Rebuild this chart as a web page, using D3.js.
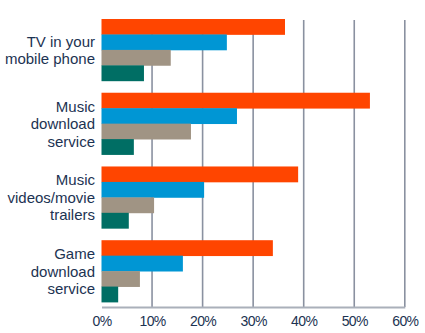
<!DOCTYPE html>
<html>
<head>
<meta charset="utf-8">
<script src="https://cdn.jsdelivr.net/npm/d3@7"></script>
<style>
  html, body { margin: 0; padding: 0; background: #fff; }
  svg { display: block; font-family: "Liberation Sans", Arial, sans-serif; }
</style>
</head>
<body>
<svg id="chart" width="425" height="333"></svg>
<script>
// Service categories (label lines) and the four series values, in percent
const categories = [
  ["TV in your", "mobile phone"],
  ["Music", "download", "service"],
  ["Music", "videos/movie", "trailers"],
  ["Game", "download", "service"]
];
const seriesNames = ["s1", "s2", "s3", "s4"];
const seriesColors = ["#ff4500", "#0096d4", "#a09484", "#006e64"];
const s1 = [36.3, 53.1, 38.9, 33.9];
const s2 = [24.8, 26.8, 20.3, 16.1];
const s3 = [13.7, 17.7, 10.4, 7.6];
const s4 = [8.4, 6.4, 5.4, 3.3];
const tickValues = [0, 10, 20, 30, 40, 50, 60];

const seriesValues = [s1, s2, s3, s4];
const svg = d3.select("#chart");

const plot = { left: 101.5, right: 404.8, top: 20, bottom: 307, barTop: 19, barBottom: 302 };

const x = d3.scaleLinear().domain([0, 60]).range([plot.left, plot.right]);
const y = d3.scaleBand()
  .domain(d3.range(categories.length))
  .range([plot.barTop, plot.barBottom])
  .paddingInner(0.162)
  .paddingOuter(0);
const ySub = d3.scaleBand()
  .domain(seriesNames)
  .range([0, y.bandwidth()]);

// vertical gridlines
svg.append("g")
  .selectAll("line")
  .data(tickValues.slice(1))
  .join("line")
  .attr("x1", d => x(d)).attr("x2", d => x(d))
  .attr("y1", plot.top).attr("y2", plot.bottom)
  .attr("stroke", "#8a91a0")
  .attr("stroke-width", 1.6);

// bars
const groups = svg.append("g")
  .selectAll("g")
  .data(categories.map((c, i) => i))
  .join("g")
  .attr("transform", i => `translate(0,${y(i)})`);

groups.selectAll("rect")
  .data(i => seriesNames.map((s, k) => ({ s, k, v: seriesValues[k][i] })))
  .join("rect")
  .attr("x", x(0))
  .attr("y", d => ySub(d.s))
  .attr("width", d => x(d.v) - x(0))
  .attr("height", ySub.bandwidth() + 0.4)
  .attr("fill", d => seriesColors[d.k]);

// category labels
const labels = svg.append("g")
  .selectAll("text")
  .data(categories.map((c, i) => ({ c, i })))
  .join("text")
  .attr("text-anchor", "end")
  .attr("fill", "#1c3352")
  .attr("font-size", 15)
  .attr("x", 95)
  .attr("y", d => y(d.i) + y.bandwidth() / 2);

const lineH = 17.5;
labels.selectAll("tspan")
  .data(d => d.c.map((t, j) => ({ t, j, n: d.c.length })))
  .join("tspan")
  .attr("x", 95)
  .attr("dy", (d, j) => j === 0 ? (-(d.n - 1) / 2 * lineH + 5.5) : lineH)
  .text(d => d.t);

// x axis
const xAxis = d3.axisBottom(x)
  .tickValues(tickValues)
  .tickSize(0)
  .tickPadding(9)
  .tickFormat(d => d + "%");

const axisG = svg.append("g")
  .attr("transform", `translate(0,${plot.bottom})`)
  .call(xAxis);
axisG.select(".domain")
  .attr("stroke", "#aab0ba")
  .attr("stroke-width", 2);
axisG.selectAll("text")
  .attr("fill", "#1c3352")
  .attr("font-size", 14)
  .attr("font-family", "\"Liberation Sans\", Arial, sans-serif")
  .attr("letter-spacing", "-0.6");
</script>
</body>
</html>
